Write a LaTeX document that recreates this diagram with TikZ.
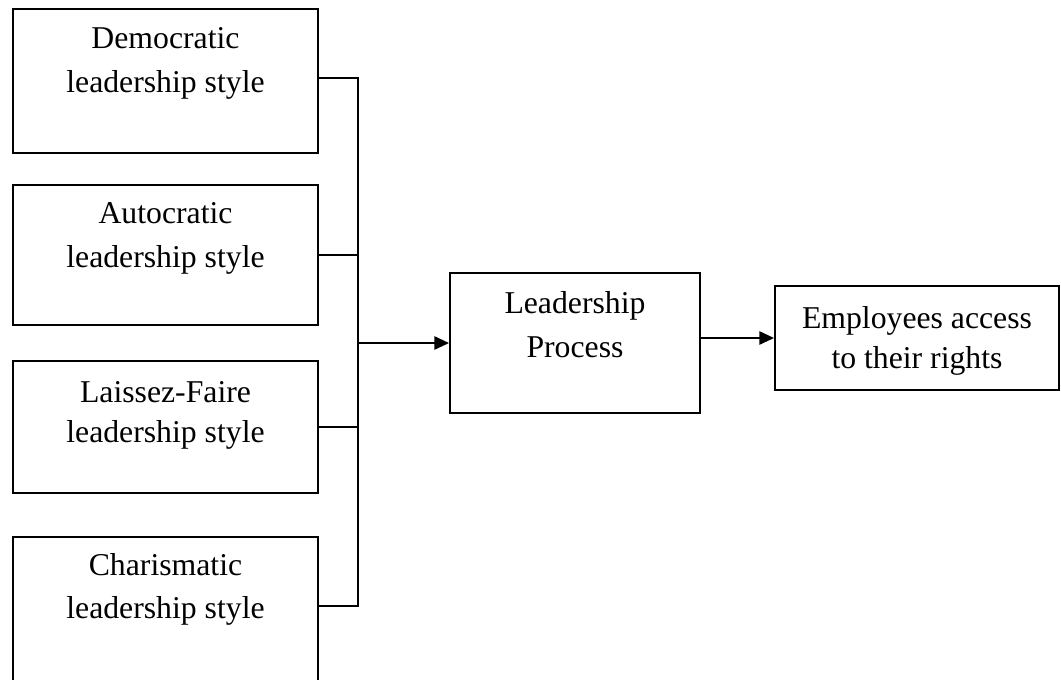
\documentclass[tikz,border=0pt]{standalone}
\usepackage{fontspec}
\setmainfont{Liberation Serif}
\usetikzlibrary{arrows.meta}
\begin{document}
\begin{tikzpicture}[x=0.75pt,y=-0.75pt,
  box/.style={draw,line width=1.5pt,inner sep=0pt,rectangle},
  txt/.style={anchor=base,inner sep=0pt,font=\fontsize{23.8pt}{33pt}\selectfont},
  conn/.style={line width=1.3pt},
  arr/.style={line width=1.3pt,-{Triangle[length=11pt,width=10pt]}}]
\useasboundingbox (0,0) rectangle (1061,679);
\clip (0,0) rectangle (1061,679);
\fill[white] (0,0) rectangle (1061,679);
% left boxes
\node[box,minimum width=228.75pt,minimum height=108pt] (b1) at (165.5,81) {};
\node[box,minimum width=228.75pt,minimum height=105pt] (b2) at (165.5,255) {};
\node[box,minimum width=228.75pt,minimum height=99pt] (b3) at (165.5,427) {};
\node[box,minimum width=228.75pt,minimum height=114.75pt] (b4) at (165.5,613.5) {};
% middle and right boxes
\node[box,minimum width=187.5pt,minimum height=105pt] (lp) at (575,343) {};
\node[box,minimum width=213pt,minimum height=78pt] (em) at (917,338) {};
% texts
\node[txt] (t1a) at (165.5,48) {Democratic};
\node[txt] (t1b) at (165.5,92) {leadership style};
\node[txt] (t2a) at (165.5,223) {Autocratic};
\node[txt] (t2b) at (165.5,267) {leadership style};
\node[txt] (t3a) at (165.5,402) {Laissez-Faire};
\node[txt] (t3b) at (165.5,442) {leadership style};
\node[txt] (t4a) at (165.5,575) {Charismatic};
\node[txt] (t4b) at (165.5,618) {leadership style};
\node[txt] (tla) at (575,313) {Leadership};
\node[txt] (tlb) at (575,357) {Process};
\node[txt] (tea) at (917,328) {Employees access};
\node[txt] (teb) at (917,368) {to their rights};
% connectors
\coordinate (j) at (358,343);
\draw[conn] (b1.north east) ++(0,70) -| (j);
\draw[conn] (b2.east) -- (b2.east -| j);
\draw[conn] (b3.east) -- (b3.east -| j);
\draw[conn] (b4.north east) ++(0,70) -| (j);
\draw[arr] (j) -- (lp.west);
\draw[arr] (em.west -| lp.east) -- (em.west);
\end{tikzpicture}
\end{document}
